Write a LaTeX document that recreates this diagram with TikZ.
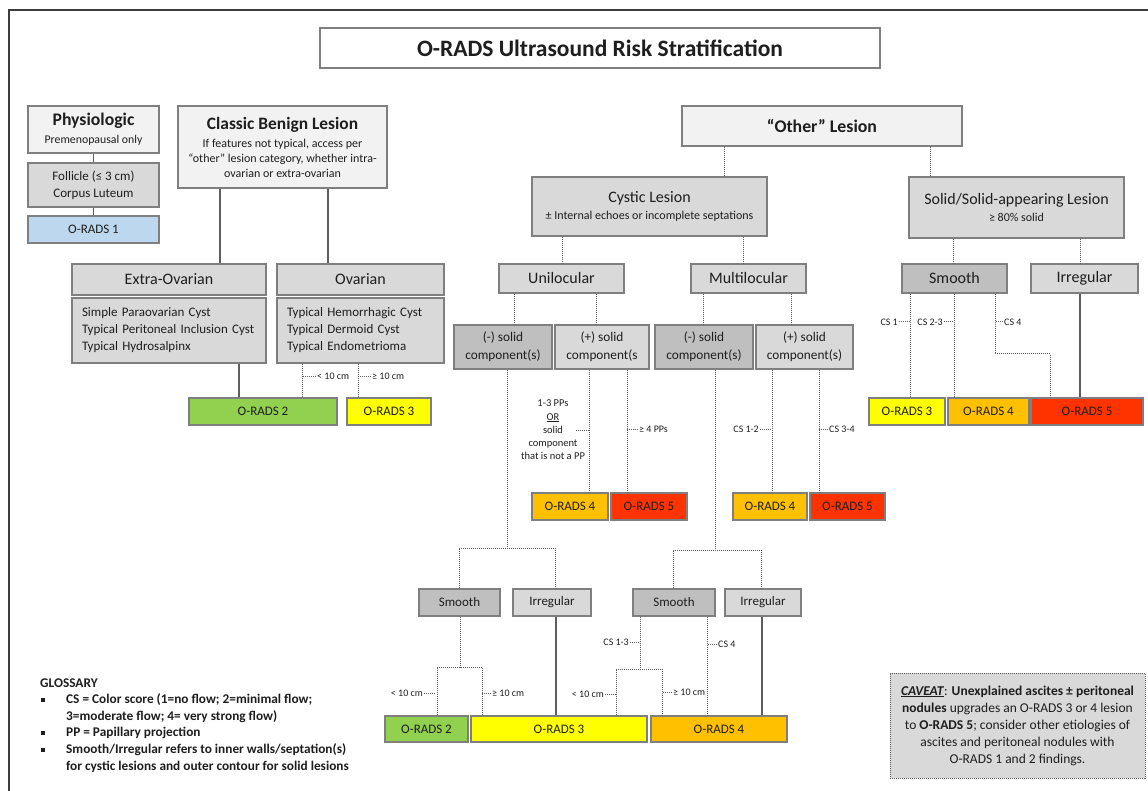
\documentclass[tikz,border=0pt]{standalone}
\usepackage{fontspec}
\setmainfont{Carlito}
\definecolor{orText}{HTML}{1E1E1E}
\definecolor{orEdge}{HTML}{7F7F7F}
\definecolor{orWire}{HTML}{5E5E5E}
\definecolor{orPale}{HTML}{F2F2F2}
\definecolor{orGray}{HTML}{D9D9D9}
\definecolor{orDark}{HTML}{BFBFBF}
\definecolor{orBlue}{HTML}{BDD7EE}
\definecolor{orGreen}{HTML}{92D050}
\definecolor{orYellow}{HTML}{FFFF00}
\definecolor{orOrange}{HTML}{FFC000}
\definecolor{orRed}{HTML}{FF3300}
\definecolor{orFrame}{HTML}{3C3C3C}
\usetikzlibrary{calc,positioning}

\tikzset{
  orbox/.style={draw=orEdge, line width=1.2pt, text=orText, align=center, inner sep=2pt},
  pale/.style={orbox, fill=orPale},
  mid/.style={orbox, fill=orGray},
  deep/.style={orbox, fill=orDark},
  rads/.style={orbox, fill=#1, font=\fontsize{13}{15}\selectfont},
  wh/.style 2 args={minimum width=#1, minimum height=#2},
  listbox/.style={align=left, inner xsep=10pt, text width=#1},
  wire/.style={draw=orWire, line width=1.2pt},
  dotwire/.style={draw=orWire, line width=1pt, dash pattern=on 1pt off 1pt},
  note/.style={text=orText, inner sep=1pt, font=\fontsize{10}{13.3}\selectfont},
  glline/.style={anchor=west, text=orText, inner sep=0pt, font=\fontsize{13.3}{14}\selectfont\bfseries},
  glbullet/.style={fill=orText, minimum size=4pt, inner sep=0pt},
}

\begin{document}
\begin{tikzpicture}[x=1pt, y=-1pt]
  \useasboundingbox (0,0) rectangle (1148,791);
  % frame
  \draw[orFrame, line width=2pt] (9,791) -- (9,10) -- (1148,10);

  % title
  \node[orbox, fill=white, wh={560}{40}, font=\fontsize{23.5}{26}\selectfont\bfseries] (title) at (600,48) {O-RADS Ultrasound Risk Stratification};

  % -- Physiologic --
  \node[pale, wh={131}{47}, font=\fontsize{11.8}{13}\selectfont] (phys) at (93.5,129.5) {{\fontsize{17.7}{19}\selectfont\bfseries Physiologic}\\[5pt]Premenopausal only};
  \node[mid, wh={131}{44}, font=\fontsize{13}{17}\selectfont] (follicle) at (93.5,185) {Follicle (≤ 3 cm)\\Corpus Luteum};
  \node[rads=orBlue, wh={131}{27}] (rads1) at (93.5,229.5) {O-RADS 1};
  \draw[wire] (phys.south) -- (follicle.north);
  \draw[wire] (follicle.south) -- (rads1.north);

  % -- Classic benign lesion --
  \node[pale, wh={209}{82}, font=\fontsize{12}{15}\selectfont] (classic) at (282.5,147) {{\fontsize{17.4}{19}\selectfont\bfseries Classic Benign Lesion}\\[3pt]If features not typical, access per\\“other” lesion category, whether intra-\\ovarian or extra-ovarian};
  \node[mid, wh={194}{31}, font=\fontsize{16}{18}\selectfont] (extra) at (169,279.5) {Extra-Ovarian};
  \node[mid, wh={167}{31}, font=\fontsize{16}{18}\selectfont] (ovarian) at (360.5,279.5) {Ovarian};
  \node[mid, listbox=174, minimum height=65, font=\fontsize{13}{17}\selectfont] (extralist) at (169,330.5) {Simple Paraovarian Cyst\\Typical Peritoneal Inclusion Cyst\\Typical Hydrosalpinx};
  \node[mid, listbox=147, minimum height=65, font=\fontsize{13}{17}\selectfont] (ovarlist) at (360.5,330.5) {Typical Hemorrhagic Cyst\\Typical Dermoid Cyst\\Typical Endometrioma};
  \draw[wire] (classic.south -| 220,0) -- (extra.north -| 220,0);
  \draw[wire] (classic.south -| 328,0) -- (ovarian.north -| 328,0);

  \node[rads=orGreen, wh={148}{27}] (rads2a) at (263,411.5) {O-RADS 2};
  \node[rads=orYellow, wh={84}{27}] (rads3a) at (389,411.5) {O-RADS 3};
  \draw[wire] (extralist.south -| 239,0) -- (rads2a.north -| 239,0);
  \draw[dotwire] (ovarlist.south -| 302,0) -- (rads2a.north -| 302,0);
  \draw[dotwire] (ovarlist.south -| 358,0) -- (rads3a.north -| 358,0);
  \node[note, anchor=west] (ovsmall) at (316,376) {< 10 cm};
  \draw[dotwire] (ovsmall.west) -- ++(-14,0);
  \node[note, anchor=west] (ovlarge) at (371,376) {≥ 10 cm};
  \draw[dotwire] (ovlarge.west) -- ++(-13,0);

  % -- Other lesion --
  \node[pale, wh={280}{40}, font=\fontsize{17.8}{20}\selectfont\bfseries] (other) at (822,126) {“Other” Lesion};
  \node[mid, wh={235}{59}, font=\fontsize{12}{13}\selectfont] (cystic) at (649.5,206.5) {{\fontsize{16}{19}\selectfont Cystic Lesion}\\[4pt]± Internal echoes or incomplete septations};
  \node[mid, wh={215}{61}, font=\fontsize{12}{13}\selectfont] (solid) at (1016.5,207.5) {{\fontsize{16}{19}\selectfont Solid/Solid-appearing Lesion}\\[4pt]≥ 80\% solid};
  \draw[dotwire] (other.south -| 724,0) -- (cystic.north -| 724,0);
  \draw[dotwire] (other.south -| 930,0) -- (solid.north -| 930,0);

  % cystic branch
  \node[mid, wh={125}{29}, font=\fontsize{16}{18}\selectfont] (uniloc) at (561.5,278.5) {Unilocular};
  \node[mid, wh={115}{29}, font=\fontsize{16}{18}\selectfont] (multiloc) at (748.5,278.5) {Multilocular};
  \draw[dotwire] (cystic.south -| 562,0) -- (uniloc.north -| 562,0);
  \draw[dotwire] (cystic.south -| 743,0) -- (multiloc.north -| 743,0);

  \node[deep, wh={98}{44}, font=\fontsize{13.3}{18}\selectfont] (unineg) at (503,347) {(-) solid\\component(s)};
  \node[mid, wh={94}{44}, font=\fontsize{13.3}{18}\selectfont] (unipos) at (602,347) {(+) solid\\component(s};
  \node[deep, wh={98}{44}, font=\fontsize{13.3}{18}\selectfont] (mulneg) at (704,347) {(-) solid\\component(s)};
  \node[mid, wh={97}{44}, font=\fontsize{13.3}{18}\selectfont] (mulpos) at (804.5,347) {(+) solid\\component(s)};
  \draw[dotwire] (uniloc.south -| 514,0) -- (unineg.north -| 514,0);
  \draw[dotwire] (uniloc.south -| 596,0) -- (unipos.north -| 596,0);
  \draw[dotwire] (multiloc.south -| 703,0) -- (mulneg.north -| 703,0);
  \draw[dotwire] (multiloc.south -| 791,0) -- (mulpos.north -| 791,0);

  \node[rads=orOrange, wh={76}{27}] (rads4b) at (570,506.5) {O-RADS 4};
  \node[rads=orRed, wh={76}{27}] (rads5b) at (649,506.5) {O-RADS 5};
  \node[rads=orOrange, wh={74}{27}] (rads4c) at (770,506.5) {O-RADS 4};
  \node[rads=orRed, wh={75}{27}] (rads5c) at (847.5,506.5) {O-RADS 5};
  \draw[dotwire] (unipos.south -| 589,0) -- (rads4b.north -| 589,0);
  \draw[dotwire] (unipos.south -| 627,0) -- (rads5b.north -| 627,0);
  \draw[dotwire] (mulpos.south -| 772,0) -- (rads4c.north -| 772,0);
  \draw[dotwire] (mulpos.south -| 819,0) -- (rads5c.north -| 819,0);
  \node[note, align=center, font=\fontsize{10.5}{13.3}\selectfont] (ppfew) at (553,430) {1-3 PPs\\\underline{OR}\\solid\\component\\that is not a PP};
  \coordinate (ppfewend) at (576,430);
  \draw[dotwire] (ppfewend) -- ++(13,0);
  \node[note, anchor=west] (ppmany) at (638,429) {≥ 4 PPs};
  \draw[dotwire] (ppmany.west) -- ++(-11,0);
  \node[note, anchor=east] (cslow) at (760,429) {CS 1-2};
  \draw[dotwire] (cslow.east) -- ++(12,0);
  \node[note, anchor=west] (cshigh) at (828,429) {CS 3-4};
  \draw[dotwire] (cshigh.west) -- ++(-9,0);

  % no solid component: smooth / irregular
  \node[deep, wh={81}{27}, font=\fontsize{13}{15}\selectfont] (smoothA) at (459.5,602.5) {Smooth};
  \node[mid, wh={78}{27}, font=\fontsize{13}{15}\selectfont] (irregA) at (552,602.5) {Irregular};
  \node[deep, wh={82}{27}, font=\fontsize{13}{15}\selectfont] (smoothB) at (674,602.5) {Smooth};
  \node[mid, wh={76}{27}, font=\fontsize{13}{15}\selectfont] (irregB) at (763,602.5) {Irregular};
  \coordinate (splitA) at (507,548);
  \draw[dotwire] (unineg.south -| splitA) -- (splitA);
  \draw[dotwire] (smoothA.north -| 459,0) |- (splitA) -| (irregA.north -| 555,0);
  \coordinate (splitB) at (715,550);
  \draw[dotwire] (mulneg.south -| splitB) -- (splitB);
  \draw[dotwire] (smoothB.north -| 673,0) |- (splitB) -| (irregB.north -| 761,0);

  \node[rads=orGreen, wh={83}{26}] (rads2e) at (426.5,729) {O-RADS 2};
  \node[rads=orYellow, wh={176}{26}] (rads3e) at (559,729) {O-RADS 3};
  \node[rads=orOrange, wh={136}{26}] (rads4e) at (719,729) {O-RADS 4};
  \coordinate (splitC) at (460,667);
  \draw[dotwire] (smoothA.south -| splitC) -- (splitC);
  \draw[dotwire] (rads2e.north -| 437,0) |- (splitC) -| (rads3e.north -| 482,0);
  \coordinate (splitD) at (640,669);
  \draw[dotwire] (smoothB.south -| splitD) -- (splitD);
  \draw[dotwire] (rads3e.north -| 616,0) |- (splitD) -| (rads4e.north -| 662,0);
  \draw[dotwire] (smoothB.south -| 707,0) -- (rads4e.north -| 707,0);
  \draw[wire] (irregA.south -| 556,0) -- (rads3e.north -| 556,0);
  \draw[wire] (irregB.south -| 762,0) -- (rads4e.north -| 762,0);
  \node[note, anchor=east] (smallA) at (424,693) {< 10 cm};
  \draw[dotwire] (smallA.east) -- ++(12,0);
  \node[note, anchor=west] (largeA) at (491,693) {≥ 10 cm};
  \draw[dotwire] (largeA.west) -- ++(-9,0);
  \node[note, anchor=east] (cslowB) at (630,642) {CS 1-3};
  \draw[dotwire] (cslowB.east) -- ++(10,0);
  \node[note, anchor=west] (cshighB) at (717,644) {CS 4};
  \draw[dotwire] (cshighB.west) -- ++(-10,0);
  \node[note, anchor=east] (smallB) at (605,694) {< 10 cm};
  \draw[dotwire] (smallB.east) -- ++(11,0);
  \node[note, anchor=west] (largeB) at (672,692) {≥ 10 cm};
  \draw[dotwire] (largeB.west) -- ++(-10,0);

  % -- Solid branch --
  \node[deep, wh={105}{29}, font=\fontsize{16}{18}\selectfont] (smoothS) at (954.5,278.5) {Smooth};
  \node[mid, wh={107}{29}, font=\fontsize{16}{18}\selectfont] (irregS) at (1084.5,278.5) {Irregular};
  \draw[dotwire] (solid.south -| 953,0) -- (smoothS.north -| 953,0);
  \draw[dotwire] (solid.south -| 1080,0) -- (irregS.north -| 1080,0);
  \node[rads=orYellow, wh={76}{27}] (rads3d) at (907,411.5) {O-RADS 3};
  \node[rads=orOrange, wh={81}{27}] (rads4d) at (988.5,411.5) {O-RADS 4};
  \node[rads=orRed, wh={112}{27}] (rads5d) at (1087,411.5) {O-RADS 5};
  \draw[dotwire] (smoothS.south -| 910,0) -- (rads3d.north -| 910,0);
  \draw[dotwire] (smoothS.south -| 954,0) -- (rads4d.north -| 954,0);
  \coordinate (bendS) at (1050,354);
  \draw[dotwire] (smoothS.south -| 995,0) |- (bendS) -- (rads5d.north -| bendS);
  \draw[wire] (irregS.south -| 1080,0) -- (rads5d.north -| 1080,0);
  \node[note, anchor=east] (csone) at (899,322) {CS 1};
  \draw[dotwire] (csone.east) -- ++(11,0);
  \node[note, anchor=east] (cstwo) at (944,322) {CS 2-3};
  \draw[dotwire] (cstwo.east) -- ++(10,0);
  \node[note, anchor=west] (csfour) at (1003,322) {CS 4};
  \draw[dotwire] (csfour.west) -- ++(-8,0);

  % -- Glossary --
  \node[glline] (gloss) at (40,683) {GLOSSARY};
  \node[glbullet] (dotcs) at (43,700) {};
  \node[glline] (glcs) at (66,700) {CS = Color score (1=no flow; 2=minimal flow;};
  \node[glline] (glcs2) at (66,717) {3=moderate flow; 4= very strong flow)};
  \node[glbullet] (dotpp) at (43,733) {};
  \node[glline] (glpp) at (66,733) {PP = Papillary projection};
  \node[glbullet] (dotsm) at (43,750) {};
  \node[glline] (glsm) at (66,750) {Smooth/Irregular refers to inner walls/septation(s)};
  \node[glline] (glsm2) at (66,767) {for cystic lesions and outer contour for solid lesions};

  % -- Caveat --
  \node[orbox, fill=orGray, draw=orWire, line width=1pt, dash pattern=on 1pt off 1pt, wh={255}{105}, font=\fontsize{13.5}{17}\selectfont] (caveat) at (1017.5,725.5) {\underline{\textbf{\textit{CAVEAT}}}: \textbf{Unexplained ascites ± peritoneal}\\\textbf{nodules} upgrades an O-RADS 3 or 4 lesion\\to \textbf{O-RADS 5}; consider other etiologies of\\ascites and peritoneal nodules with\\O-RADS 1 and 2 findings.};
\end{tikzpicture}
\end{document}
